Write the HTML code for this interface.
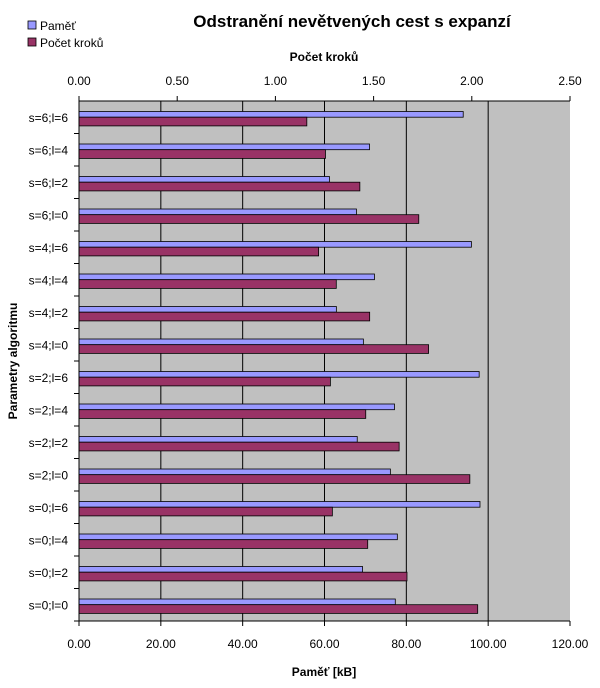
<!DOCTYPE html>
<html><head><meta charset="utf-8"><style>
body{margin:0;background:#fff;}
svg text{font-family:"Liberation Sans",Arial,sans-serif;}
</style></head><body>
<svg id="chart" width="600" height="683" viewBox="0 0 600 683">
<text x="352" y="27" font-size="17" font-weight="bold" text-anchor="middle">Odstranění nevětvených cest s expanzí</text>
<g>
<rect x="28" y="21" width="8" height="8" fill="#9999ff" stroke="#000" stroke-width="0.8"/>
<text x="40" y="30" font-size="12">Paměť</text>
<rect x="28" y="38" width="8" height="8" fill="#993366" stroke="#000" stroke-width="0.8"/>
<text x="40" y="47" font-size="12">Počet kroků</text>
</g>
<text x="324" y="61" font-size="12" font-weight="bold" text-anchor="middle">Počet kroků</text>
<text x="324" y="676" font-size="12" font-weight="bold" text-anchor="middle">Paměť  [kB]</text>
<text transform="translate(17,361) rotate(-90)" font-size="12" font-weight="bold" text-anchor="middle">Parametry algoritmu</text>
<g id="plot"></g>
</svg>
<script>
const categories=["s=6;l=6","s=6;l=4","s=6;l=2","s=6;l=0","s=4;l=6","s=4;l=4","s=4;l=2","s=4;l=0","s=2;l=6","s=2;l=4","s=2;l=2","s=2;l=0","s=0;l=6","s=0;l=4","s=0;l=2","s=0;l=0"];
const pamet=[93.9,71,61.2,67.8,95.9,72.2,62.9,69.5,97.8,77.1,68,76.1,98,77.8,69.3,77.3];
const kroky=[1.16,1.255,1.43,1.73,1.22,1.31,1.48,1.78,1.28,1.46,1.63,1.99,1.29,1.47,1.67,2.03];
const bottomTicks=[0,20,40,60,80,100,120];
const topTicks=[0,0.5,1,1.5,2,2.5];
const L=79,R=570,T=101,B=621;
const xB=v=>L+(v/120)*(R-L);
const xT=v=>L+(v/2.5)*(R-L);
const band=(B-T)/categories.length;
const g=document.getElementById('plot');
const NS="http://www.w3.org/2000/svg";
function mk(tag,attrs){const e=document.createElementNS(NS,tag);for(const k in attrs)e.setAttribute(k,attrs[k]);g.appendChild(e);return e;}
let e=mk('rect',{x:L,y:T,width:R-L,height:B-T,fill:'#c0c0c0'});


bottomTicks.forEach(t=>{
  if(t>0&&t<120){const l=mk('line',{x1:xB(t),x2:xB(t),y1:T,y2:B,stroke:'#000','stroke-width':1});
  
  }
  const tk=mk('line',{x1:xB(t),x2:xB(t),y1:B,y2:B+5,stroke:'#000'});
  
  
  const tx=mk('text',{x:xB(t),y:B+27,'font-size':12,'text-anchor':'middle'});
  tx.textContent=t.toFixed(2);
  
  
});
topTicks.forEach(t=>{
  const tk=mk('line',{x1:xT(t),x2:xT(t),y1:T-5,y2:T,stroke:'#000'});
  
  
  const tx=mk('text',{x:xT(t),y:T-16,'font-size':12,'text-anchor':'middle'});
  tx.textContent=t.toFixed(2);
  
  
});
categories.forEach((c,i)=>{
  const y0=T+i*band;
  const b1=mk('rect',{x:L,y:y0+10.5,width:xB(pamet[i])-L,height:5.7,fill:'#9999ff',stroke:'#000','stroke-width':0.8});
  
  
  const b2=mk('rect',{x:L,y:y0+16.2,width:xT(kroky[i])-L,height:8.7,fill:'#993366',stroke:'#000','stroke-width':0.8});
  
  
  const tx=mk('text',{x:L-11,y:y0+21,'font-size':12,'text-anchor':'end'});
  tx.textContent=c;
  
  
  const tk=mk('line',{x1:L-5,x2:L,y1:y0+band,y2:y0+band,stroke:'#000'});
  
  
});
e=mk('line',{x1:L,x2:L,y1:T,y2:B,stroke:'#000'});


e=mk('line',{x1:L,x2:R,y1:B,y2:B,stroke:'#000'});


e=mk('line',{x1:L,x2:R,y1:T,y2:T,stroke:'#000'});


</script>
</body></html>
